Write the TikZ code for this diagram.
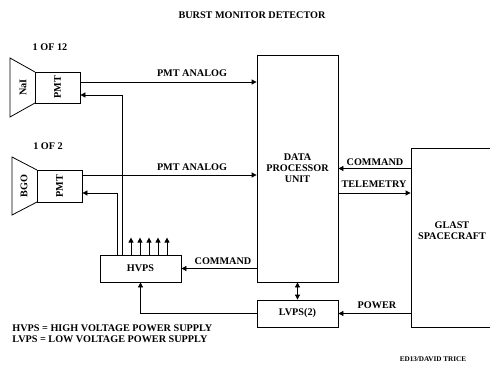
\documentclass[tikz,border=0pt]{standalone}
\usepackage{fontspec}
\setmainfont{Liberation Serif}
\usepackage{tikz}
\usetikzlibrary{arrows.meta, positioning, calc}

\begin{document}
\begin{tikzpicture}[
    x=1pt, y=-1pt,
    >={Triangle[length=5pt,width=5pt]},
    line width=0.8pt,
    every node/.style={font=\fontsize{10.2}{11}\selectfont\bfseries},
    box/.style={draw, minimum width=81pt, minimum height=27pt, align=center, inner sep=0pt},
    pmtbox/.style={draw, minimum width=45pt, minimum height=31pt, inner sep=0pt},
    lbl/.style={inner sep=1pt},
    arrow/.style={->},
  ]
  \useasboundingbox (0,0) rectangle (490,372);
  \clip (0,0) rectangle (490,372);
  % Title
  \node[lbl] (title) at (252,15) {BURST MONITOR DETECTOR};
  % NaI detector
  \node[lbl] (of12) at (50,47) {1 OF 12};
  \draw (35,72) -- (10,58) -- (10,117) -- (35,103);
  \node[lbl, rotate=90] (nai) at (23,87.5) {NaI};
  \node[pmtbox] (pmt1) at (57.5,87.5) {\rotatebox{90}{PMT}};
  % BGO detector
  \node[lbl] (of2) at (48,146) {1 OF 2};
  \draw (37,170) -- (12,157) -- (12,215) -- (37,202);
  \node[lbl, rotate=90] (bgo) at (24,186) {BGO};
  \node[pmtbox, minimum height=32pt] (pmt2) at (59.5,186) {\rotatebox{90}{PMT}};
  % Data processor unit
  \node[box, minimum height=227pt] (dpu) at (297.5,168.5) {DATA\\PROCESSOR\\UNIT};
  % Power supplies
  \node[box] (hvps) at (140.5,268.5) {HVPS};
  \node[box] (lvps) at (297.5,313.5) {LVPS(2)};
  % Spacecraft
  \node[box, minimum width=100pt, minimum height=179pt] (glast) at (461,237.5) {};
  \node[lbl, align=center] (glastlbl) at ([xshift=-9pt,yshift=7pt]glast.center) {GLAST\\SPACECRAFT};
  % PMT analog signals
  \draw[arrow] ([yshift=5.5pt]pmt1.east) -- ([yshift=5.5pt]pmt1.east -| dpu.west);
  \node[lbl] (ana1) at (192,73) {PMT ANALOG};
  \draw[arrow] ([yshift=11pt]pmt2.east) -- ([yshift=11pt]pmt2.east -| dpu.west);
  \node[lbl] (ana2) at (192,167) {PMT ANALOG};
  % High voltage to PMTs
  \draw[arrow] ([xshift=-18.5pt]hvps.north) |- ([yshift=-7.5pt]pmt1.east);
  \draw[arrow] ([xshift=-23.5pt]hvps.north) |- ([yshift=-7pt]pmt2.east);
  \foreach \dx in {-9.5,-0.5,8.5,17.5,26.5}
    \draw[arrow] ([xshift=\dx pt]hvps.north) -- ++(0,-17);
  % Commands and power
  \draw[arrow] (hvps.east -| dpu.west) -- (hvps.east);
  \node[lbl] (cmd1) at (223,261) {COMMAND};
  \draw[arrow] (lvps.west) -| (hvps.south);
  \draw[<->] (dpu.south) -- (lvps.north);
  \draw[arrow] (dpu.east -| glast.west) -- (dpu.east);
  \node[lbl] (cmd2) at (375,162) {COMMAND};
  \draw[arrow] ([yshift=-24.5pt]dpu.east) -- ([yshift=-24.5pt]dpu.east -| glast.west);
  \node[lbl] (tlm) at (374,184) {TELEMETRY};
  \draw[arrow] (lvps.east -| glast.west) -- (lvps.east);
  \node[lbl] (pwr) at (377,305) {POWER};
  % Legend
  \node[lbl, anchor=west, align=left, font=\fontsize{10.2}{11}\selectfont\bfseries] (legend) at (11,333.5)
    {HVPS = HIGH VOLTAGE POWER SUPPLY\\LVPS = LOW VOLTAGE POWER SUPPLY};
  \node[lbl, font=\fontsize{7.2}{8}\selectfont\bfseries] (credit) at (433,359) {ED13/DAVID TRICE};
\end{tikzpicture}
\end{document}
